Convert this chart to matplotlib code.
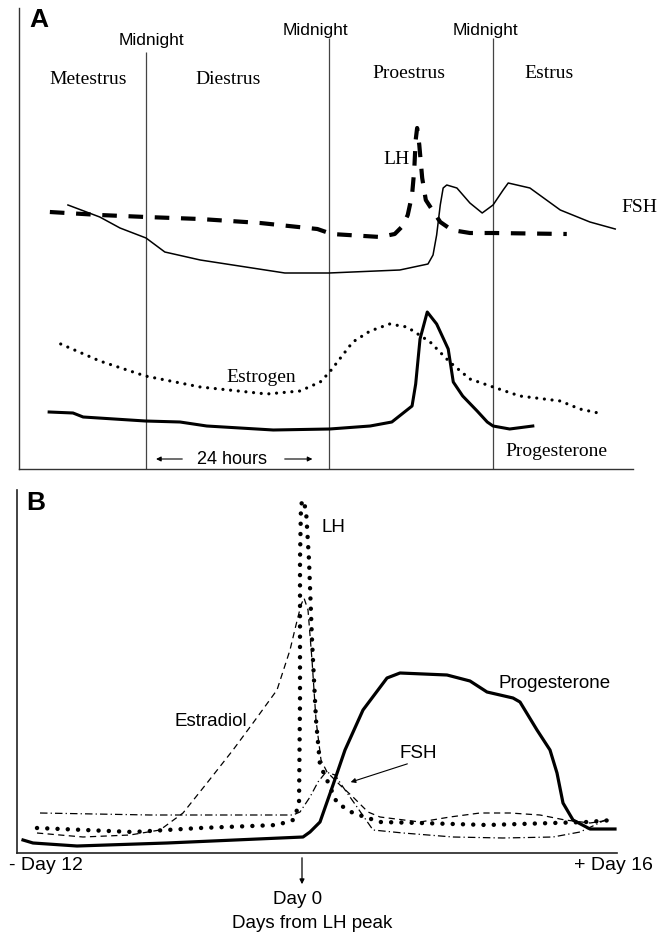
import matplotlib.pyplot as plt

# ---- panel A: rat estrous cycle (hours from first midnight, relative level) ----
midnights = [0, 25.3, 48.0]
midnight_tops = [41.7, 43.1, 43.1]
midnight_label_x = [0.7, 23.5, 47.0]
midnight_label_y = [42.8, 43.8, 43.9]
phase_names = ['Metestrus', 'Diestrus', 'Proestrus', 'Estrus']
phase_x = [-8.0, 11.3, 36.4, 55.7]
phase_y = [38.9, 38.9, 39.5, 39.5]

fsh_a_h = [-10.8, -6.4, -3.6, 0, 2.6, 7.5, 19.2, 25.3, 35.1, 39.0, 39.7, 40.2, 40.7,
           41.1, 41.6, 43.0, 44.8, 46.5, 48.0, 49.4, 50.1, 53.1, 57.3, 61.4, 64.9]
fsh_a = [26.4, 25.2, 24.1, 23.1, 21.7, 20.9, 19.6, 19.6, 19.9, 20.5, 21.4, 23.4, 26.4,
         28.1, 28.4, 28.1, 26.6, 25.6, 26.4, 27.9, 28.6, 28.1, 25.9, 24.7, 24.0]

lh_a_h = [-13.3, -6.4, 0, 7.5, 15.8, 23.7, 25.7, 32.4, 34.4, 35.5, 36.2, 36.8, 37.1,
          37.3, 37.5, 37.8, 38.2, 38.7, 39.6, 40.7, 42.3, 44.8, 48.0, 58.2]
lh_a = [25.7, 25.4, 25.2, 25.0, 24.6, 24.0, 23.5, 23.2, 23.5, 24.3, 25.4, 27.4, 29.9,
        32.9, 34.1, 32.4, 29.1, 26.9, 25.9, 24.7, 23.9, 23.6, 23.6, 23.5]

estrogen_h = [-11.8, -6.4, -0.1, 7.5, 16.7, 21.3, 24.1, 25.4, 28.6, 31.0, 33.7, 36.1,
              39.3, 42.0, 44.8, 48.0, 51.7, 57.3, 60.0, 63.2]
estrogen = [12.5, 10.8, 9.3, 8.2, 7.5, 7.8, 8.7, 9.7, 12.7, 13.8, 14.5, 14.2,
            12.7, 10.7, 9.0, 8.2, 7.3, 6.8, 6.0, 5.5]

prog_a_h = [-13.4, -10.1, -8.7, -0.1, 4.7, 8.4, 17.6, 25.4, 31.0, 34.0, 36.8, 37.3,
            37.9, 38.9, 40.2, 41.8, 42.5, 43.8, 45.8, 47.2, 48.0, 50.3, 53.5]
prog_a = [5.7, 5.6, 5.2, 4.8, 4.7, 4.3, 3.9, 4.0, 4.3, 4.7, 6.3, 8.5,
          13.0, 15.7, 14.5, 12.0, 8.7, 7.3, 5.8, 4.7, 4.3, 4.0, 4.3]

# ---- panel B: human menstrual cycle (days from LH peak) ----
prog_b_d = [-13.95, -13.45, -11.25, -6.75, 0.05, 0.4, 0.9, 1.55, 2.15, 3.05, 4.25, 4.9,
            7.25, 8.4, 9.25, 10.55, 10.9, 11.75, 12.4, 12.75, 13.05, 13.55, 14.4, 15.65]
prog_b = [1.3, 1.0, 0.7, 1.0, 1.6, 2.1, 3.1, 6.8, 10.3, 14.3, 17.5, 18.0,
          17.8, 17.2, 16.1, 15.5, 15.1, 12.3, 10.3, 8.0, 5.0, 3.3, 2.4, 2.4]

lh_b_d = [-13.25, -8.45, -5.1, -1.25, -0.45, -0.15, -0.1, -0.1, -0.05, 0.05, 0.2, 0.35,
          0.5, 0.7, 0.9, 1.25, 1.75, 2.55, 3.9, 5.9, 9.25, 12.55, 14.25, 15.55]
lh_b = [2.5, 2.1, 2.5, 2.8, 3.3, 4.8, 15.3, 29.3, 34.8, 35.3, 34.3, 29.3,
        21.3, 13.3, 8.8, 7.3, 5.0, 4.0, 3.1, 3.0, 2.8, 3.0, 3.1, 3.3]

estradiol_d = [-13.25, -10.95, -8.6, -7.1, -5.95, -4.75, -3.45, -2.45, -1.25, -0.6, -0.3,
               -0.05, 0.1, 0.3, 0.5, 0.7, 0.95, 1.25, 1.9, 2.55, 3.3, 3.9, 5.9, 7.4,
               8.9, 10.4, 11.9, 13.15, 14.4, 15.4]
estradiol = [2.0, 1.6, 1.8, 2.3, 4.0, 7.0, 10.3, 13.0, 16.3, 20.3, 22.8,
             24.8, 25.5, 24.3, 19.3, 13.3, 9.3, 8.1, 6.8, 5.6, 4.1, 3.6, 3.1, 3.6,
             4.0, 4.0, 3.8, 3.3, 3.0, 3.3]

fsh_b_d = [-13.1, -7.6, -2.6, -0.45, -0.1, 0.4, 0.8, 1.2, 1.65, 2.05, 2.75, 3.55,
           5.05, 7.55, 10.05, 12.55, 13.9, 14.65, 15.15]
fsh_b = [4.0, 3.8, 3.8, 3.8, 4.1, 5.6, 7.1, 8.1, 7.8, 6.6, 4.6, 2.3,
         2.0, 1.6, 1.5, 1.6, 2.1, 2.8, 3.3]

serif = 'Liberation Serif'
sans = 'Liberation Sans'


def dotted(gap):
    return dict(linestyle=(0, (0.01, gap)), dash_capstyle='round')


fig = plt.figure(figsize=(6.57, 9.39), dpi=100)

# panel A
ax = fig.add_axes([19 / 657, 1 - 469 / 939, 614 / 657, 461 / 939])
ax.set_xlim(-17.57, 67.36)
ax.set_ylim(0, 46.1)
for s in ['top', 'right']:
    ax.spines[s].set_visible(False)
for s in ['left', 'bottom']:
    ax.spines[s].set_linewidth(1.0)
    ax.spines[s].set_color('#333333')
ax.set_xticks([])
ax.set_yticks([])

ax.vlines(midnights, 0, midnight_tops, color='#444444', lw=0.9)
for x, y in zip(midnight_label_x, midnight_label_y):
    ax.text(x, y, 'Midnight', family=sans, fontsize=12.5, ha='center', va='center')
for name, x, y in zip(phase_names, phase_x, phase_y):
    ax.text(x, y, name, family=serif, fontsize=14, ha='center', va='center')

ax.plot(fsh_a_h, fsh_a, color='k', lw=1.1)
ax.plot(lh_a_h, lh_a, color='k', lw=3.0, linestyle=(0, (3.5, 2.8)))
ax.plot(estrogen_h, estrogen, color='k', lw=2.3, **dotted(2.4))
ax.plot(prog_a_h, prog_a, color='k', lw=2.2, solid_joinstyle='round')

ax.text(34.7, 31.0, 'LH', family=serif, fontsize=14, ha='center', va='center')
ax.text(65.8, 26.1, 'FSH', family=serif, fontsize=14, ha='left', va='center')
ax.text(16.0, 9.1, 'Estrogen', family=serif, fontsize=14, ha='center', va='center')
ax.text(56.8, 1.7, 'Progesterone', family=serif, fontsize=14, ha='center', va='center')
ax.text(11.9, 1.0, '24 hours', family=sans, fontsize=13, ha='center', va='center')
ax.annotate('', xy=(1.0, 1.0), xytext=(5.4, 1.0),
            arrowprops=dict(arrowstyle='-|>', color='k', lw=0.8, mutation_scale=7))
ax.annotate('', xy=(23.4, 1.0), xytext=(18.8, 1.0),
            arrowprops=dict(arrowstyle='-|>', color='k', lw=0.8, mutation_scale=7))
ax.text(-14.8, 44.9, 'A', family=sans, fontsize=19, fontweight='bold', ha='center', va='center')

# panel B
bx = fig.add_axes([17 / 657, 1 - 853 / 939, 600 / 657, 363 / 939])
bx.set_xlim(-14.25, 15.75)
bx.set_ylim(0, 36.3)
for s in ['top', 'right']:
    bx.spines[s].set_visible(False)
for s in ['left', 'bottom']:
    bx.spines[s].set_linewidth(1.2)
    bx.spines[s].set_color('#222222')
bx.set_xticks([])
bx.set_yticks([])

bx.plot(fsh_b_d, fsh_b, color='k', lw=0.9, linestyle=(0, (6, 2.5, 1, 2.5)), clip_on=False)
bx.plot(estradiol_d, estradiol, color='k', lw=0.9, linestyle=(0, (5, 3.5)), clip_on=False)
bx.plot(lh_b_d, lh_b, color='k', lw=3.2, clip_on=False, **dotted(2.3))
bx.plot(prog_b_d, prog_b, color='k', lw=2.3, solid_joinstyle='round', clip_on=False)

bx.text(1.55, 32.5, 'LH', family=sans, fontsize=13.5, ha='center', va='center')
bx.text(-4.55, 13.1, 'Estradiol', family=sans, fontsize=13.5, ha='center', va='center')
bx.text(12.65, 17.0, 'Progesterone', family=sans, fontsize=13.5, ha='center', va='center')
bx.text(5.8, 10.0, 'FSH', family=sans, fontsize=13.5, ha='center', va='center')
bx.annotate('', xy=(2.3, 7.0), xytext=(5.4, 9.0),
            arrowprops=dict(arrowstyle='-|>', color='k', lw=0.8, mutation_scale=7))
bx.text(-13.3, 35.0, 'B', family=sans, fontsize=19, fontweight='bold', ha='center', va='center')

bx.text(-12.8, -1.3, '- Day 12', family=sans, fontsize=14, ha='center', va='center')
bx.text(15.55, -1.3, '+ Day 16', family=sans, fontsize=14, ha='center', va='center')
bx.annotate('', xy=(0, -3.4), xytext=(0, -0.2), annotation_clip=False,
            arrowprops=dict(arrowstyle='-|>', color='k', lw=0.9, mutation_scale=7))
bx.text(-0.2, -4.7, 'Day 0', family=sans, fontsize=13.5, ha='center', va='center')
bx.text(0.5, -7.1, 'Days from LH peak', family=sans, fontsize=13.5, ha='center', va='center')

fig.savefig('out.png', dpi=100)
